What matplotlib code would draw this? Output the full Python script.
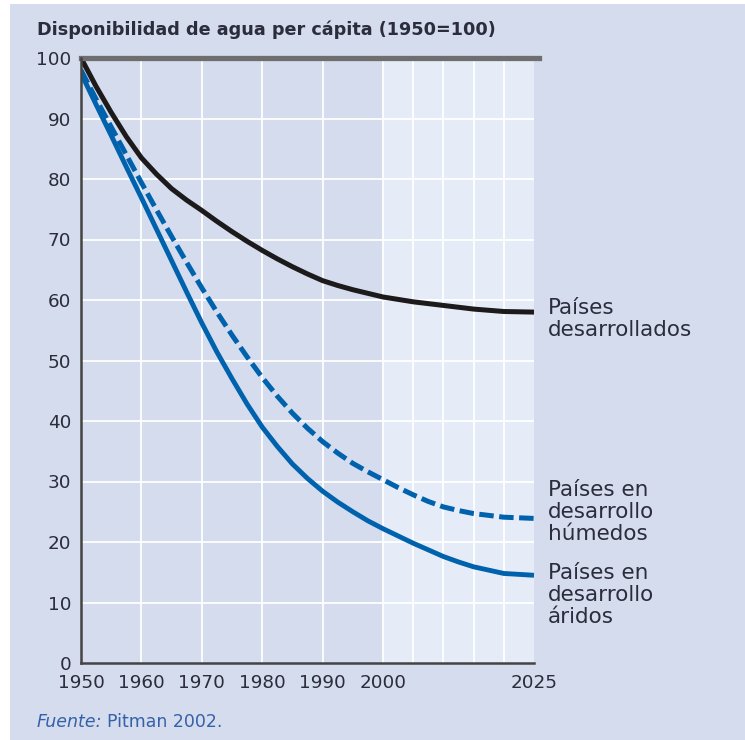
import matplotlib
matplotlib.use("Agg")
import matplotlib.pyplot as plt
from matplotlib.patches import Rectangle

years = [1950, 1952.5, 1955, 1957.5, 1960, 1962.5, 1965, 1967.5, 1970, 1972.5, 1975, 1977.5,
         1980, 1982.5, 1985, 1987.5, 1990, 1992.5, 1995, 1997.5, 2000, 2002.5, 2005, 2007.5,
         2010, 2012.5, 2015, 2020, 2025]
developed = [100, 95.3, 91.0, 87.0, 83.5, 80.8, 78.4, 76.5, 74.8, 73.0, 71.3, 69.7,
             68.2, 66.8, 65.5, 64.3, 63.2, 62.4, 61.7, 61.1, 60.5, 60.1, 59.7, 59.4,
             59.1, 58.8, 58.5, 58.1, 58.0]
humid = [98, 93.2, 88.6, 84.0, 79.4, 74.9, 70.5, 66.2, 62.0, 58.0, 54.2, 50.6,
         47.2, 44.1, 41.3, 38.8, 36.6, 34.7, 33.0, 31.6, 30.3, 29.0, 27.8, 26.7,
         25.8, 25.2, 24.7, 24.1, 23.9]
arid = [97.5, 92.3, 87.2, 82.0, 76.9, 71.7, 66.5, 61.3, 56.2, 51.4, 47.0, 42.8,
        39.0, 35.8, 32.9, 30.5, 28.4, 26.6, 25.0, 23.5, 22.2, 21.0, 19.8, 18.7,
        17.6, 16.7, 15.9, 14.8, 14.5]

xtick_labels = [1950, 1960, 1970, 1980, 1990, 2000, 2025]
xgrid = [1960, 1970, 1980, 1990, 2000, 2005, 2010, 2015, 2020]
yticks = list(range(0, 101, 10))

title = "Disponibilidad de agua per cápita (1950=100)"
lab_dev = "Países\ndesarrollados"
lab_hum = "Países en\ndesarrollo\nhúmedos"
lab_ari = "Países en\ndesarrollo\náridos"

plt.rcParams['font.family'] = ['DejaVu Sans']
TXT = '#2b2c3c'
PANEL = '#d4dcee'
LIGHT = '#e6ecf7'
BLUE = '#0062ad'

W, H = 745, 740
fig = plt.figure(figsize=(W / 100, H / 100), dpi=100)
fig.patch.set_facecolor('white')
fig.patches.append(Rectangle((10 / W, 0), 1 - 10 / W, 1 - 4 / H, transform=fig.transFigure,
                             facecolor=PANEL, edgecolor='none', zorder=-10))

ax = fig.add_axes([81 / W, 1 - 663 / H, (534 - 81) / W, (663 - 58) / H])
ax.set_facecolor(PANEL)
ax.set_xlim(1950, 2025)
ax.set_ylim(0, 100)
ax.axvspan(2000, 2025, color=LIGHT, zorder=0, lw=0)

for x in xgrid:
    ax.axvline(x, color='white', lw=1.3, zorder=1)
for y in yticks[1:-1]:
    ax.axhline(y, color='white', lw=1.3, zorder=1)

ax.plot(years, developed, color='#1c1a1b', lw=3.6, zorder=4, solid_capstyle='butt', solid_joinstyle='round')
ax.plot(years, humid, color=BLUE, lw=3.6, zorder=3, dashes=(2.9, 1.1), dash_capstyle='butt', dash_joinstyle='round')
ax.plot(years, arid, color=BLUE, lw=3.5, zorder=3, solid_capstyle='butt', solid_joinstyle='round')

ax.axhline(100, xmin=0, xmax=1.012, color='#6e6e6e', lw=3.8, clip_on=False, zorder=5)

for s in ['top', 'right']:
    ax.spines[s].set_visible(False)
for s in ['left', 'bottom']:
    ax.spines[s].set_color('#444444')
    ax.spines[s].set_linewidth(1.8)
    ax.spines[s].set_zorder(6)

ax.set_xticks(xtick_labels)
ax.set_xticklabels([str(v) for v in xtick_labels])
ax.set_yticks(yticks)
ax.set_yticklabels([str(v) for v in yticks])
ax.tick_params(length=0, labelsize=13.2, colors=TXT)
ax.tick_params(axis='y', pad=7)
ax.tick_params(axis='x', pad=8)

fig.text(37 / W, 1 - 30 / H, title, fontsize=12.7, fontweight='bold', color=TXT, va='center', ha='left')

lab_kw = dict(fontsize=15.5, color=TXT, ha='left', va='top', linespacing=1.12, clip_on=False)
ax.text(2027.3, developed[-1] + 2.4, lab_dev, **lab_kw)
ax.text(2027.3, humid[-1] + 6.3, lab_hum, **lab_kw)
ax.text(2027.3, arid[-1] + 2.0, lab_ari, **lab_kw)

t1 = fig.text(37 / W, 1 - 722 / H, "Fuente:", fontsize=12.5, style='italic', color='#3561a8', va='center', ha='left')
fig.canvas.draw()
bb = t1.get_window_extent()
fig.text((bb.x1 + 4) / W, 1 - 722 / H, "Pitman 2002.", fontsize=12.5, color='#3561a8', va='center', ha='left')

fig.savefig('out.png', dpi=100, facecolor=fig.get_facecolor())
